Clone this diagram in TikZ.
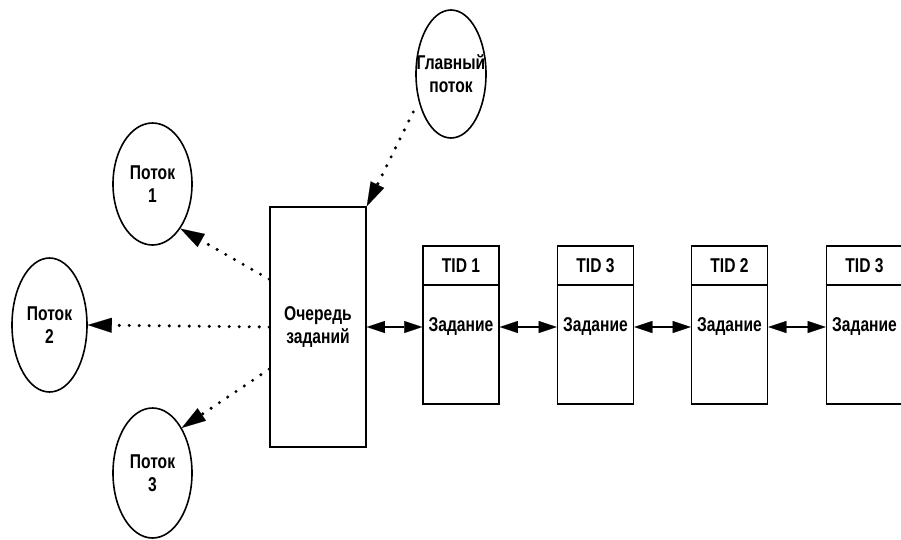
\documentclass[tikz,border=0pt]{standalone}
\usepackage{fontspec}
\setmainfont{Liberation Sans}[FakeStretch=0.78]
\usetikzlibrary{shapes.geometric,arrows.meta,calc}
\begin{document}
\begin{tikzpicture}[x=1pt,y=-1pt,
  every node/.style={font=\fontsize{20}{23}\selectfont\bfseries},
  ell/.style={draw,ellipse,line width=1.6pt,inner sep=0pt},
  lbl/.style={align=center,inner sep=0pt},
  queue/.style={draw,rectangle,line width=1.6pt,minimum width=96pt,minimum height=240pt,inner sep=0pt,align=center},
  taskbox/.style={draw,rectangle,line width=1.6pt,minimum width=76pt,minimum height=158pt,inner sep=0pt},
  dots/.style={line width=3.4pt,line cap=round,dash pattern=on 0pt off 10pt,
    -{Triangle[length=24pt,width=15pt,line width=0.1pt,sep=0pt]}},
  link/.style={line width=1.6pt,{Triangle[length=18pt,width=12pt,line width=0.1pt]}-{Triangle[length=18pt,width=12pt,line width=0.1pt]}}
]
\useasboundingbox (0,0) rectangle (901,539);
\clip (0,0) rectangle (901,539);

% ellipses
\node[ell,minimum width=70pt,minimum height=128pt] (m) at (451,74) {};
\node[lbl] (mt) at (m) {Главный\\поток};
\node[ell,minimum width=79pt,minimum height=122pt] (p1) at (152.5,184) {};
\node[lbl] (p1t) at (p1) {Поток\\1};
\node[ell,minimum width=75pt,minimum height=134pt] (p2) at (49.5,325) {};
\node[lbl] (p2t) at (p2) {Поток\\2};
\node[ell,minimum width=79pt,minimum height=130pt] (p3) at (152.5,473) {};
\node[lbl] (p3t) at (p3) {Поток\\3};

% queue
\node[queue] (q) at (318,327) {Очередь\\заданий};

% task boxes
\foreach \i/\x/\t in {1/461/TID 1,2/595.5/TID 3,3/729.5/TID 2,4/864.5/TID 3}{
  \node[taskbox] (b\i) at (\x,325) {};
  \draw[line width=1.6pt] ($(b\i.north west)+(0,40)$) -- ($(b\i.north east)+(0,40)$);
  \node[lbl] (h\i) at ($(b\i.north)+(0,20)$) {\t};
  \node[lbl] (z\i) at (\x,327) {Задание};
}

% anchor coordinates on the queue side
\coordinate (q1) at ($(q.north west)+(0,73)$);
\coordinate (q3) at ($(q.north west)+(0,163)$);

% dotted arrows
\draw[dots] (q1) -- (p1.-58);
\draw[dots] (q.west) -- (p2.east);
\draw[dots] (q3) -- (p3.57);
\draw[dots,shorten <=12pt] (m.220) -- (q.north east);

% links
\draw[link] (q.east |- z1) -- (b1.west |- z1);
\draw[link] (b1.east |- z1) -- (b2.west |- z1);
\draw[link] (b2.east |- z1) -- (b3.west |- z1);
\draw[link] (b3.east |- z1) -- (b4.west |- z1);
\end{tikzpicture}
\end{document}
